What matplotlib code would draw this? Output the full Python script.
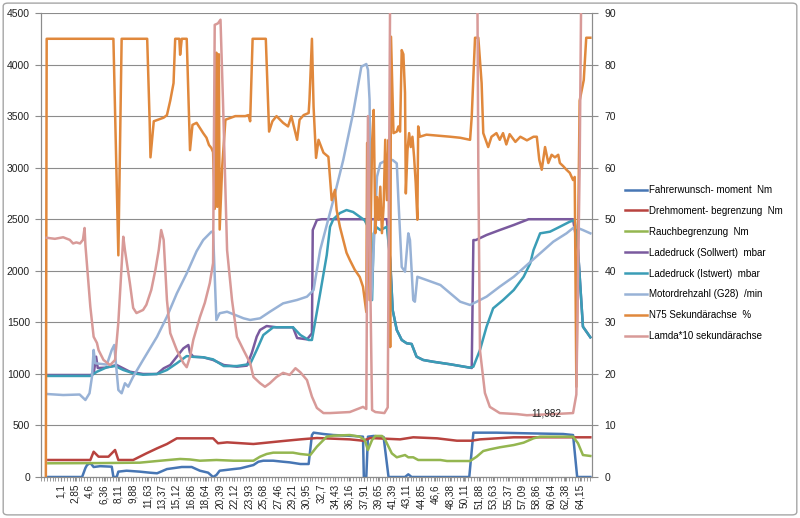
import matplotlib
matplotlib.use("Agg")
import matplotlib.pyplot as plt
from matplotlib.patches import FancyBboxPatch
import numpy as np

plt.rcParams['font.family'] = ['Liberation Sans', 'DejaVu Sans']

# x tick labels (time in s, German decimal comma)
x_labels = ["1,1", "2,85", "4,6", "6,36", "8,11", "9,88", "11,63", "13,37", "15,12",
            "16,86", "18,64", "20,39", "22,12", "23,93", "25,68", "27,46", "29,21",
            "30,95", "32,7", "34,43", "36,16", "37,91", "39,65", "41,39", "43,11",
            "44,85", "46,6", "48,38", "50,11", "51,88", "53,63", "55,37", "57,09",
            "58,86", "60,64", "62,38", "64,15"]

# Fahrerwunsch-moment Nm
fw_t = [-0.4, 3.7, 4.1, 4.3, 4.7, 5.1, 5.9, 7.3, 7.5, 7.9, 8.1, 9.1, 10.7, 11.9, 12.8,
        14.0, 15.8, 17.0, 18.0, 19.0, 19.6, 20.0, 20.4, 22.1, 22.9, 23.7, 24.5, 25.1,
        25.7, 26.9, 28.1, 28.9, 30.2, 31.2, 31.6, 31.8, 33.0, 34.2, 36.6, 37.8, 37.9,
        38.2, 38.4, 39.1, 40.3, 40.9, 42.9, 43.3, 43.7, 50.7, 51.2, 54.0, 58.1, 62.1,
        63.3, 63.8, 65.4]
fw_v = [0, 0, 87, 116, 136, 97, 105, 100, 0, 0, 52, 61, 52, 42, 36,
        77, 97, 97, 61, 42, 0, 19, 61, 77, 84, 100, 116, 148,
        158, 158, 148, 142, 126, 126, 407, 430, 417, 407, 398, 391, 0,
        0, 391, 398, 388, 0, 0, 26, 0, 0, 430, 430, 423, 417,
        407, 0, 0]

# Drehmoment-begrenzung Nm
db_t = [-0.4, 4.7, 5.1, 5.7, 6.9, 7.7, 8.1, 9.9, 11.5, 12.8, 14.0, 15.2, 19.6, 20.2,
        21.3, 24.5, 28.1, 30.2, 32.2, 36.2, 37.8, 38.7, 42.3, 43.9, 46.8, 49.2, 51.0,
        52.0, 56.1, 65.4]
db_v = [165, 165, 245, 197, 197, 262, 165, 165, 229, 278, 320, 375, 375, 327,
        336, 320, 349, 365, 378, 365, 352, 378, 365, 385, 375, 352, 352,
        365, 385, 385]

# Rauchbegrenzung Nm
rb_t = [-0.4, 5.9, 10.7, 13.2, 15.6, 16.8, 18.0, 20.0, 22.1, 24.5, 25.3, 26.1, 26.9,
        29.3, 30.2, 31.4, 32.2, 33.4, 34.2, 36.2, 37.4, 38.0, 38.4, 38.9, 39.3, 40.1,
        40.5, 41.3, 41.9, 42.9, 43.3, 43.9, 44.5, 47.2, 48.0, 50.8, 51.6, 52.4, 53.2,
        54.4, 56.1, 57.3, 58.5, 59.3, 63.3, 63.9, 64.5, 65.4]
rb_v = [133, 135, 139, 158, 175, 170, 158, 165, 158, 158, 197, 223, 236,
        236, 223, 213, 294, 391, 401, 407, 391, 359, 262, 359, 398, 398,
        359, 229, 191, 213, 191, 191, 165, 165, 155, 155, 197, 252, 268,
        288, 310, 333, 375, 391, 391, 327, 213, 204]

# Ladedruck (Sollwert) mbar
ls_t = [-0.6, 4.7, 5.1, 5.4, 5.6, 6.5, 7.9, 9.5, 11.1, 12.8, 13.6, 14.4, 15.2, 16.0,
        16.6, 16.8, 17.2, 18.4, 19.6, 20.9, 22.5, 23.7, 24.3, 24.9, 25.3, 26.1, 27.3,
        29.3, 29.8, 31.0, 31.6, 31.7, 32.2, 32.8, 40.7, 41.1, 41.4, 41.9, 42.5, 43.1,
        43.7, 44.3, 45.1, 46.3, 48.4, 50.8, 51.0, 51.2, 51.5, 52.8, 54.4, 56.1, 57.9,
        63.3, 63.9, 64.5, 65.4]
ls_v = [989, 989, 1000, 1167, 1057, 1060, 1086, 1021, 999, 999, 1054, 1086, 1167, 1248,
        1280, 1203, 1167, 1161, 1135, 1086, 1070, 1080, 1203, 1361, 1426, 1464, 1452,
        1452, 1348, 1335, 1393, 2395, 2492, 2500, 2500, 2104, 1620, 1426, 1329, 1297,
        1290, 1167, 1135, 1118, 1093, 1060, 1057, 2298, 2298, 2347, 2395, 2444, 2500,
        2500, 2201, 1458, 1355]

# Ladedruck (Istwert) mbar
li_t = [-0.6, 4.7, 5.5, 6.7, 7.7, 8.7, 9.9, 11.1, 12.8, 14.0, 15.2, 16.4, 17.2, 18.4,
        19.6, 20.9, 22.5, 24.1, 24.9, 25.7, 26.9, 29.3, 30.2, 31.2, 31.6, 32.6, 33.4,
        33.8, 34.2, 35.0, 35.8, 36.6, 37.4, 38.0, 38.4, 38.9, 39.1, 39.5, 39.9, 40.7,
        41.1, 41.4, 41.9, 42.5, 43.1, 43.7, 44.3, 45.1, 46.3, 48.4, 50.8, 51.2, 52.0,
        52.8, 53.6, 54.8, 56.1, 57.3, 58.1, 58.5, 59.3, 60.5, 61.7, 62.9, 63.5, 63.9,
        64.5, 65.4]
li_v = [980, 980, 1021, 1064, 1076, 1038, 1006, 992, 999, 1038, 1103, 1173, 1165, 1161,
        1141, 1076, 1076, 1096, 1232, 1377, 1452, 1452, 1377, 1329, 1329, 1782, 2153,
        2427, 2500, 2560, 2589, 2570, 2524, 2490, 2427, 1716, 2363, 2420, 2395, 2427,
        2104, 1620, 1426, 1329, 1297, 1290, 1167, 1135, 1118, 1093, 1060, 1070, 1232,
        1458, 1636, 1716, 1813, 1942, 2072, 2201, 2363, 2379, 2427, 2476, 2492, 2201,
        1458, 1355]

# Motordrehzahl (G28) /min
md_t = [-0.6, 1.4, 3.4, 4.1, 4.6, 4.9, 5.1, 5.3, 6.7, 7.3, 7.6, 7.8, 8.1, 8.5, 8.9,
        9.3, 9.9, 11.1, 12.8, 14.0, 15.2, 16.4, 17.6, 18.4, 19.4, 19.6, 20.0, 20.4,
        21.3, 23.3, 24.1, 25.3, 26.5, 28.1, 29.8, 31.0, 31.8, 32.6, 34.2, 35.4, 36.6,
        37.6, 38.2, 38.4, 38.6, 38.8, 39.5, 39.9, 40.7, 41.4, 41.9, 42.1, 42.5, 42.9,
        43.3, 43.5, 43.9, 44.1, 44.4, 45.5, 47.2, 48.4, 49.6, 50.8, 51.6, 52.8, 54.4,
        56.1, 57.7, 59.3, 60.9, 62.5, 63.5, 64.5, 65.4]
md_v = [805, 795, 800, 747, 812, 973, 1232, 1103, 1090, 1232, 1280, 1106, 844, 812, 909,
        876, 973, 1135, 1361, 1555, 1781, 1975, 2190, 2298, 2379, 2379, 1523, 1588,
        1603, 1539, 1523, 1539, 1603, 1684, 1717, 1749, 1813, 2201, 2686, 3074, 3530,
        3979, 4005, 3950, 3656, 1716, 2912, 3042, 3074, 3074, 3042, 2686, 2037, 1991,
        2363, 2298, 1716, 1700, 1942, 1911, 1862, 1781, 1700, 1668, 1700, 1749, 1846,
        1942, 2056, 2169, 2282, 2363, 2427, 2395, 2363]

# N75 Sekundaerachse % (right axis)
n75_t = [-0.7, -0.6, 7.5, 8.1, 8.5, 11.6, 11.9, 12.0, 12.4, 13.6, 14.0, 14.4, 14.8,
         15.0, 15.5, 15.6, 15.8, 16.4, 16.8, 17.1, 17.6, 18.0, 18.4, 18.8, 19.1, 19.4,
         19.6, 19.8, 20.0, 20.1, 20.3, 20.4, 20.7, 21.1, 22.3, 23.5, 23.9, 24.1, 24.4,
         26.0, 26.4, 26.8, 27.3, 28.1, 28.7, 29.1, 29.8, 30.1, 30.6, 31.2, 31.3, 31.6,
         31.8, 32.1, 32.4, 33.0, 33.6, 34.0, 34.4, 34.6, 35.0, 35.4, 35.8, 36.2, 36.8,
         37.4, 37.8, 38.2, 38.3, 38.6, 38.9, 39.1, 39.3, 39.5, 39.7, 39.9, 40.1, 40.3,
         40.5, 40.7, 40.9, 41.1, 41.2, 41.5, 41.9, 42.1, 42.3, 42.5, 42.7, 42.9, 43.0,
         43.2, 43.4, 43.6, 43.8, 44.0, 44.2, 44.4, 44.5, 44.7, 45.5, 48.4, 49.6, 50.8,
         51.0, 51.4, 51.8, 52.2, 52.4, 53.0, 53.4, 54.0, 54.4, 54.8, 55.2, 55.6, 56.3,
         56.9, 57.7, 58.5, 58.9, 59.2, 59.5, 59.9, 60.3, 60.7, 61.1, 61.5, 61.7, 62.1,
         62.5, 62.9, 63.3, 63.5, 63.7, 64.1, 64.6, 64.9, 65.4]
n75_v = [0, 85, 85, 43, 85, 85, 69, 62, 69, 69.7, 70.2, 73, 76.4,
         85, 85, 81.9, 85, 85, 63.4, 68.3, 68.7, 67.7, 66.7, 65.8, 64.4, 63.8,
         63, 52, 82.3, 52.4, 82, 48, 60, 69.3, 70, 70, 70.2, 69, 85,
         85, 67, 69, 70, 68.7, 68, 70, 65.4, 69.3, 70.2, 70.6, 73.1, 85,
         71.8, 61.9, 65.4, 62.9, 62.1, 53.7, 55.7, 51.8, 48.5, 46, 43.5, 42.1, 40.2,
         38.8, 36.9, 32, 64.8, 34.3, 64.8, 71.2, 47.3, 54.3, 49.9, 56.3, 47.3, 52.4,
         65.4, 53.7, 65.4, 25.2, 85.4, 66.7, 67, 68, 67, 82.8, 82, 74.5, 55,
         63.4, 66.7, 64, 66, 62.1, 57, 49.9, 68, 66, 66.4, 66, 65.8, 65.4,
         69.9, 85.2, 85.2, 76.4, 66.7, 64, 66, 66.7, 65.4, 66.7, 64.5, 66.5, 65,
         66, 65.3, 66, 66, 61.5, 59.6, 64, 60.9, 62.5, 62, 62.5, 60.9, 60.3,
         59.6, 59, 57.6, 58.2, 17.5, 73, 77, 85.2, 85.2]

# Lamda*10 sekundaerachse (right axis, runs off the top of the scale)
la_t = [-0.6, 0.4, 1.4, 2.2, 2.6, 3.0, 3.45, 3.8, 4.0, 4.1, 4.7, 5.1, 5.5, 5.7, 6.3,
        7.1, 7.7, 8.1, 8.7, 8.9, 9.5, 9.9, 10.3, 11.1, 11.5, 12.1, 12.6, 13.0, 13.3,
        13.6, 14.0, 14.4, 15.2, 16.0, 16.4, 16.8, 17.2, 18.0, 18.6, 19.2, 19.6, 19.8,
        20.2, 20.5, 20.8, 21.3, 21.9, 22.5, 23.3, 24.1, 24.5, 25.3, 25.9, 26.5, 27.3,
        28.1, 28.9, 29.6, 30.2, 31.0, 31.6, 32.2, 33.0, 33.8, 36.2, 37.8, 38.2, 38.4,
        38.9, 39.3, 40.4, 40.8, 41.3, 41.7, 51.5, 51.8, 52.0, 52.6, 53.2, 54.4, 56.5,
        57.7, 60.9, 63.3, 63.7, 64.1, 64.6, 65.4]
la_v = [46.4, 46.2, 46.5, 46, 45.3, 45.5, 45.3, 46, 48.3, 45, 33, 27.2, 26, 24.6, 22.7,
        21.7, 22.7, 30, 46.6, 44, 37.6, 32.8, 31.8, 32.4, 33.4, 36.3, 40.2, 44, 47.9,
        46, 34.3, 27.9, 24.6, 22.1, 21.3, 23.3, 26.6, 31, 33.8, 37.6, 41.5, 87.7,
        88, 88.7, 73, 44, 34.3, 27.2, 24.6, 22.1, 19.4, 18.2, 17.5, 18.2, 19.4,
        20.2, 19.8, 21.1, 20.3, 18.8, 15.6, 13.4, 12.4, 12.4, 12.6, 13.6, 13.2, 70,
        13, 12.6, 12.4, 13.5, 150, 150, 150, 60, 24.6, 16.3, 13.6, 12.4, 12.2,
        11.982, 12.2, 12.4, 16, 60, 150, 150]

fig = plt.figure(figsize=(8, 5.18), dpi=100)
fig.patches.append(FancyBboxPatch((0.004, 0.006), 0.992, 0.988,
                                  boxstyle="round,pad=0,rounding_size=0.006",
                                  transform=fig.transFigure, fc='white',
                                  ec='#a6a6a6', lw=1, zorder=-1))

ax = fig.add_axes([41 / 800, 41 / 518, 551 / 800, 464 / 518])
ax.set_facecolor('none')
ax2 = ax.twinx()

lw = 1.8
h = []
h += ax.plot(fw_t, fw_v, color='#4776b4', lw=lw, label='Fahrerwunsch- moment  Nm')
h += ax.plot(db_t, db_v, color='#b8433f', lw=lw, label='Drehmoment- begrenzung  Nm')
h += ax.plot(rb_t, rb_v, color='#94b650', lw=lw, label='Rauchbegrenzung  Nm')
h += ax.plot(ls_t, ls_v, color='#7a5a9e', lw=lw, label='Ladedruck (Sollwert)  mbar')
h += ax.plot(li_t, li_v, color='#3a9db6', lw=lw, label='Ladedruck (Istwert)  mbar')
h += ax.plot(md_t, md_v, color='#98b2d6', lw=lw, label='Motordrehzahl (G28)  /min')
h += ax2.plot(n75_t, n75_v, color='#e0883c', lw=lw, label='N75 Sekundärachse  %')
h += ax2.plot(la_t, la_v, color='#d89a98', lw=lw, label='Lamda*10 sekundärachse')

ax2.annotate('11,982', xy=(57.7, 11.982), xytext=(3, 1), textcoords='offset points',
             ha='left', va='center', fontsize=7.2, color='#222222')

ax.set_xlim(-1.29, 65.6)
ax.set_ylim(0, 4500)
ax2.set_ylim(0, 90)
ax.set_yticks(np.arange(0, 4501, 500))
ax2.set_yticks(np.arange(0, 91, 10))

ax.set_xticks([float(s.replace(',', '.')) for s in x_labels])
ax.set_xticklabels(x_labels, rotation=90)
ax.set_xticks(np.arange(-1.29, 65.6, 0.3505), minor=True)

ax.grid(axis='y', color='#8c8c8c', lw=0.8)
ax.set_axisbelow(True)
for a in (ax, ax2):
    a.spines['top'].set_visible(False)
    for s in ('left', 'right', 'bottom'):
        a.spines[s].set_color('#8c8c8c')
    a.tick_params(which='both', direction='out', color='#8c8c8c', labelsize=7.5,
                  labelcolor='#222222')
ax.tick_params(axis='x', which='major', length=3, pad=2, labelsize=7.2)
ax.tick_params(axis='x', which='minor', length=3)
ax.tick_params(axis='y', length=4, pad=4)
ax2.tick_params(axis='y', length=4, pad=5)

fig.legend(handles=h, loc='upper left', bbox_to_anchor=(625 / 800, 1 - 185 / 518),
           frameon=False, fontsize=7.0, handlelength=2.3, handletextpad=0.2,
           labelspacing=1.12, borderpad=0, borderaxespad=0)

fig.savefig('out.png', dpi=100)
